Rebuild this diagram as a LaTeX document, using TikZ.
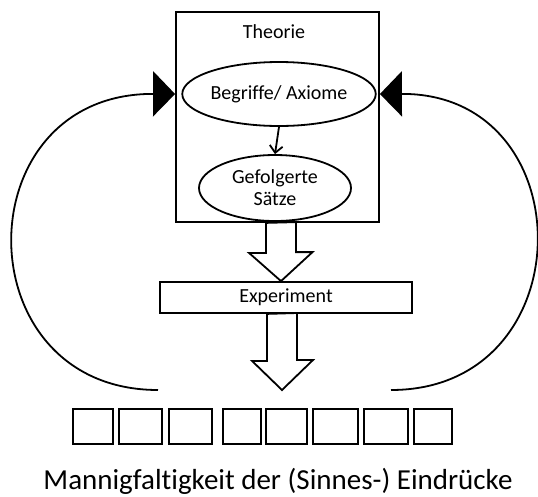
\documentclass[tikz,border=0pt]{standalone}
\usepackage{fontspec}
\setmainfont[Ligatures=NoCommon]{Carlito}
\usetikzlibrary{arrows.meta, calc, shapes.geometric}

\tikzset{
	box/.style={draw, rectangle, line width=1.8pt, inner sep=0pt},
	ell/.style={draw, ellipse, line width=1.8pt, inner sep=0pt, align=center},
	cell/.style={draw, rectangle, line width=1.8pt, minimum height=35pt, inner sep=0pt},
	hollow/.style={draw, line width=1.8pt, fill=white, line join=miter},
	feedback/.style={line width=1.8pt, -{Triangle[length=22pt, width=45pt]}},
	txt/.style={font=\fontsize{20}{23}\selectfont}
}

\begin{document}
\begin{tikzpicture}[x=1pt, y=-1pt]
	\useasboundingbox (0,0) rectangle (538,496);
	
	% theory block
	\node [box, minimum width=203pt, minimum height=210pt] (theorie) at (277.5,117) {};
	\node [txt] (titel) at (274,32) {Theorie};
	\node [ell, txt, minimum width=168pt, minimum height=64pt] (begriffe) at (279,94) {Begriffe/ Axiome};
	\node [ell, txt, minimum width=152pt, minimum height=66pt] (saetze) at (275,188) {Gefolgerte\\[-1pt]Sätze};
	\draw [line width=1.8pt, -{Straight Barb[length=7pt, width=13pt]}] (begriffe.south) -- (saetze.north);
	
	\node [box, txt, minimum width=252pt, minimum height=31pt] (experiment) at (286,297.5) {Experiment};
	
	% hollow arrows
	\draw [hollow] ($(theorie.south)+(-11.5,0)$) -- ++(0,30) -- ++(-17,0) -- ($(experiment.north)+(-5,0)$)
		-- ++(31.5,-29) -- ++(-16.5,0) -- ++(0,-30) -- cycle;
	\draw [hollow] ($(experiment.south)+(-19,0)$) -- ++(0,47) -- ++(-15,0) -- (282,390)
		-- ++(31,-30) -- ++(-16,0) -- ++(0,-47) -- cycle;
	
	% the manifold of impressions
	\foreach \l/\r [count=\i] in {73/113, 119/162, 169/212, 223/261, 266/307, 313/358, 364/408, 414/452}
	{
		\node [cell, minimum width={\r-\l}] (c\i) at ({(\l+\r)/2},426.5) {};
	}
	\node [font=\fontsize{29}{33}\selectfont] (eindruecke) at (278,481) {Mannigfaltigkeit der (Sinnes-) Eindrücke};
	
	% feedback loops
	\coordinate (lstart) at (158,390);
	\coordinate (rstart) at (391,390);
	\draw [feedback] (lstart) .. controls (-37,390) and (-37,93) .. (theorie.west |- begriffe);
	\draw [feedback] (rstart) .. controls (585,390) and (585,93) .. (theorie.east |- begriffe);
\end{tikzpicture}
\end{document}
